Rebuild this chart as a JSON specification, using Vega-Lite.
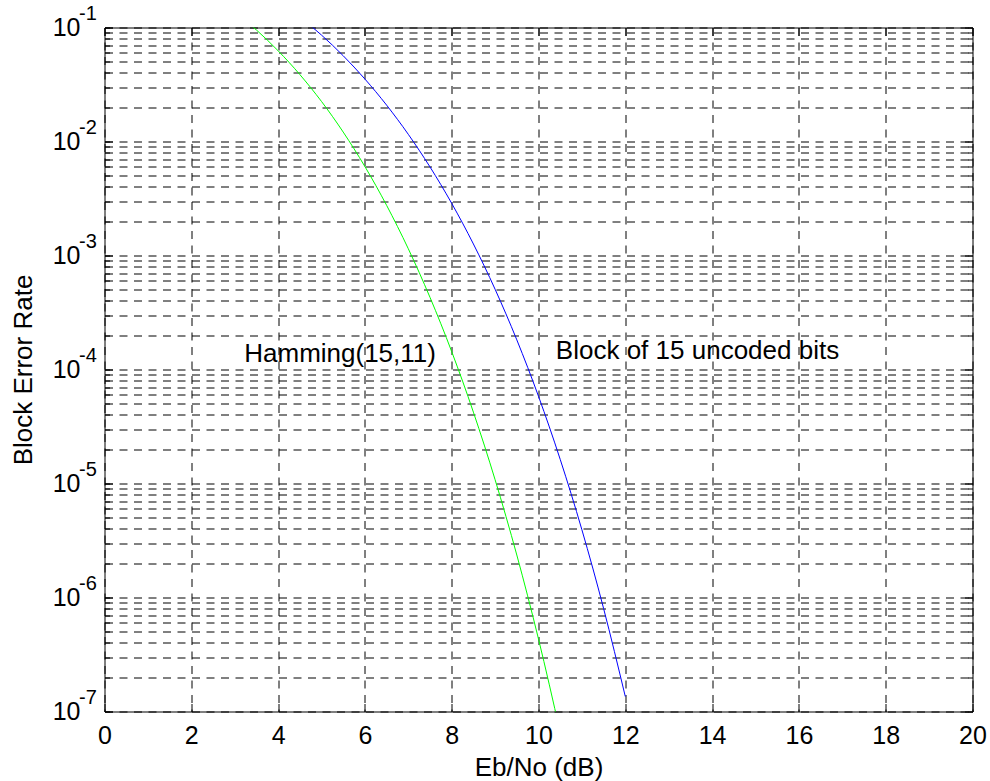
{
  "$schema": "https://vega.github.io/schema/vega-lite/v6.json",
  "width": 868,
  "height": 684,
  "autosize": {"type": "none"},
  "padding": {"left": 104.5, "top": 27.5, "right": 17.5, "bottom": 69.5},
  "background": "white",
  "config": {
    "font": "Liberation Sans",
    "view": {"stroke": "black", "strokeWidth": 1},
    "axis": {
      "domain": false,
      "labelFont": "Liberation Sans",
      "titleFont": "Liberation Sans",
      "labelColor": "black",
      "titleColor": "black",
      "tickColor": "black",
      "tickWidth": 1,
      "gridColor": "black",
      "gridOpacity": 1,
      "gridWidth": 1,
      "gridDash": [8, 6.5],
      "titleFontWeight": "normal"
    }
  },
  "datasets": {
    "curves": [
      {"s": "Hamming(15,11)", "x": 3.0, "v": 0.13708},
      {"s": "Hamming(15,11)", "x": 3.5, "v": 0.09516},
      {"s": "Hamming(15,11)", "x": 4.0, "v": 0.06252},
      {"s": "Hamming(15,11)", "x": 4.5, "v": 0.03869},
      {"s": "Hamming(15,11)", "x": 5.0, "v": 0.02245},
      {"s": "Hamming(15,11)", "x": 5.5, "v": 0.01210},
      {"s": "Hamming(15,11)", "x": 6.0, "v": 0.0060304},
      {"s": "Hamming(15,11)", "x": 6.5, "v": 0.0027552},
      {"s": "Hamming(15,11)", "x": 7.0, "v": 0.0011460},
      {"s": "Hamming(15,11)", "x": 7.5, "v": 0.0004293},
      {"s": "Hamming(15,11)", "x": 8.0, "v": 0.00014349},
      {"s": "Hamming(15,11)", "x": 8.5, "v": 0.000042238},
      {"s": "Hamming(15,11)", "x": 9.0, "v": 0.000010789},
      {"s": "Hamming(15,11)", "x": 9.5, "v": 0.000002359},
      {"s": "Hamming(15,11)", "x": 10.0, "v": 4.324e-7},
      {"s": "Hamming(15,11)", "x": 10.5, "v": 6.536e-8},
      {"s": "Uncoded", "x": 4.5, "v": 0.1242},
      {"s": "Uncoded", "x": 5.0, "v": 0.0858},
      {"s": "Uncoded", "x": 5.5, "v": 0.05655},
      {"s": "Uncoded", "x": 6.0, "v": 0.03532},
      {"s": "Uncoded", "x": 6.5, "v": 0.020849},
      {"s": "Uncoded", "x": 7.0, "v": 0.011558},
      {"s": "Uncoded", "x": 7.5, "v": 0.005981},
      {"s": "Uncoded", "x": 8.0, "v": 0.002867},
      {"s": "Uncoded", "x": 8.5, "v": 0.0012621},
      {"s": "Uncoded", "x": 9.0, "v": 0.00050553},
      {"s": "Uncoded", "x": 9.5, "v": 0.00018201},
      {"s": "Uncoded", "x": 10.0, "v": 0.0000582},
      {"s": "Uncoded", "x": 10.5, "v": 0.000016292},
      {"s": "Uncoded", "x": 11.0, "v": 0.0000039273},
      {"s": "Uncoded", "x": 11.5, "v": 8.009e-7},
      {"s": "Uncoded", "x": 12.0, "v": 1.3529e-7}
    ],
    "decades": [
      {"v": 1e-7, "e": "-7"},
      {"v": 1e-6, "e": "-6"},
      {"v": 1e-5, "e": "-5"},
      {"v": 1e-4, "e": "-4"},
      {"v": 1e-3, "e": "-3"},
      {"v": 1e-2, "e": "-2"},
      {"v": 1e-1, "e": "-1"}
    ],
    "notes": [
      {"x": 3.22, "v": 0.0001175, "t": "Hamming(15,11)"},
      {"x": 10.4, "v": 0.000124, "t": "Block of 15 uncoded bits"}
    ]
  },
  "resolve": {"axis": {"x": "independent", "y": "independent"}},
  "layer": [
    {
      "data": {"name": "curves"},
      "mark": {"type": "line", "clip": true, "strokeWidth": 1, "interpolate": "monotone"},
      "encoding": {
        "x": {
          "field": "x", "type": "quantitative",
          "scale": {"domain": [0, 20], "nice": false, "zero": false},
          "axis": {
            "orient": "bottom",
            "values": [0, 2, 4, 6, 8, 10, 12, 14, 16, 18, 20],
            "grid": true,
            "tickSize": -8,
            "labelPadding": 20,
            "labelFontSize": 25,
            "labelFlush": false,
            "labelOverlap": false,
            "title": "Eb/No (dB)",
            "titleFontSize": 26,
            "titlePadding": 6
          }
        },
        "y": {
          "field": "v", "type": "quantitative",
          "scale": {"type": "log", "domain": [1e-7, 0.1], "nice": false},
          "axis": {
            "orient": "left",
            "values": [1e-7, 2e-7, 3e-7, 4e-7, 5e-7, 6e-7, 7e-7, 8e-7, 9e-7,
                       1e-6, 2e-6, 3e-6, 4e-6, 5e-6, 6e-6, 7e-6, 8e-6, 9e-6,
                       1e-5, 2e-5, 3e-5, 4e-5, 5e-5, 6e-5, 7e-5, 8e-5, 9e-5,
                       1e-4, 2e-4, 3e-4, 4e-4, 5e-4, 6e-4, 7e-4, 8e-4, 9e-4,
                       1e-3, 2e-3, 3e-3, 4e-3, 5e-3, 6e-3, 7e-3, 8e-3, 9e-3,
                       1e-2, 2e-2, 3e-2, 4e-2, 5e-2, 6e-2, 7e-2, 8e-2, 9e-2, 0.1],
            "grid": true,
            "labels": false,
            "tickSize": -5,
            "title": "Block Error Rate",
            "titleFontSize": 26,
            "titlePadding": 68
          }
        },
        "color": {
          "field": "s", "type": "nominal",
          "scale": {"domain": ["Hamming(15,11)", "Uncoded"], "range": ["#00ff00", "#0000ff"]},
          "legend": null
        }
      }
    },
    {
      "data": {"name": "decades"},
      "mark": {"type": "text", "align": "right", "baseline": "middle", "dx": -24, "fontSize": 25, "font": "Liberation Sans", "color": "black"},
      "encoding": {
        "x": {
          "datum": 0, "type": "quantitative",
          "axis": {"orient": "top", "values": [0, 2, 4, 6, 8, 10, 12, 14, 16, 18, 20], "tickSize": -8, "labels": false, "grid": false, "title": null}
        },
        "y": {
          "field": "v", "type": "quantitative",
          "axis": {
            "orient": "right",
            "values": [1e-7, 2e-7, 3e-7, 4e-7, 5e-7, 6e-7, 7e-7, 8e-7, 9e-7,
                       1e-6, 2e-6, 3e-6, 4e-6, 5e-6, 6e-6, 7e-6, 8e-6, 9e-6,
                       1e-5, 2e-5, 3e-5, 4e-5, 5e-5, 6e-5, 7e-5, 8e-5, 9e-5,
                       1e-4, 2e-4, 3e-4, 4e-4, 5e-4, 6e-4, 7e-4, 8e-4, 9e-4,
                       1e-3, 2e-3, 3e-3, 4e-3, 5e-3, 6e-3, 7e-3, 8e-3, 9e-3,
                       1e-2, 2e-2, 3e-2, 4e-2, 5e-2, 6e-2, 7e-2, 8e-2, 9e-2, 0.1],
            "tickSize": -5, "labels": false, "grid": false, "title": null
          }
        },
        "text": {"value": "10"}
      }
    },
    {
      "data": {"name": "decades"},
      "mark": {"type": "text", "align": "left", "baseline": "alphabetic", "dx": -25.5, "dy": -7.3, "fontSize": 20, "font": "Liberation Sans", "color": "black"},
      "encoding": {
        "x": {"datum": 0, "type": "quantitative", "axis": null},
        "y": {
          "field": "v", "type": "quantitative",
          "axis": {"orient": "left", "values": [1e-7, 1e-6, 1e-5, 1e-4, 1e-3, 1e-2, 0.1], "tickSize": -8, "labels": false, "grid": false, "title": null}
        },
        "text": {"field": "e"}
      }
    },
    {
      "data": {"name": "notes"},
      "mark": {"type": "text", "align": "left", "baseline": "alphabetic", "fontSize": 26, "font": "Liberation Sans", "color": "black"},
      "encoding": {
        "x": {"field": "x", "type": "quantitative", "axis": null},
        "y": {
          "field": "v", "type": "quantitative",
          "axis": {"orient": "right", "values": [1e-7, 1e-6, 1e-5, 1e-4, 1e-3, 1e-2, 0.1], "tickSize": -8, "labels": false, "grid": false, "title": null}
        },
        "text": {"field": "t"}
      }
    }
  ]
}
